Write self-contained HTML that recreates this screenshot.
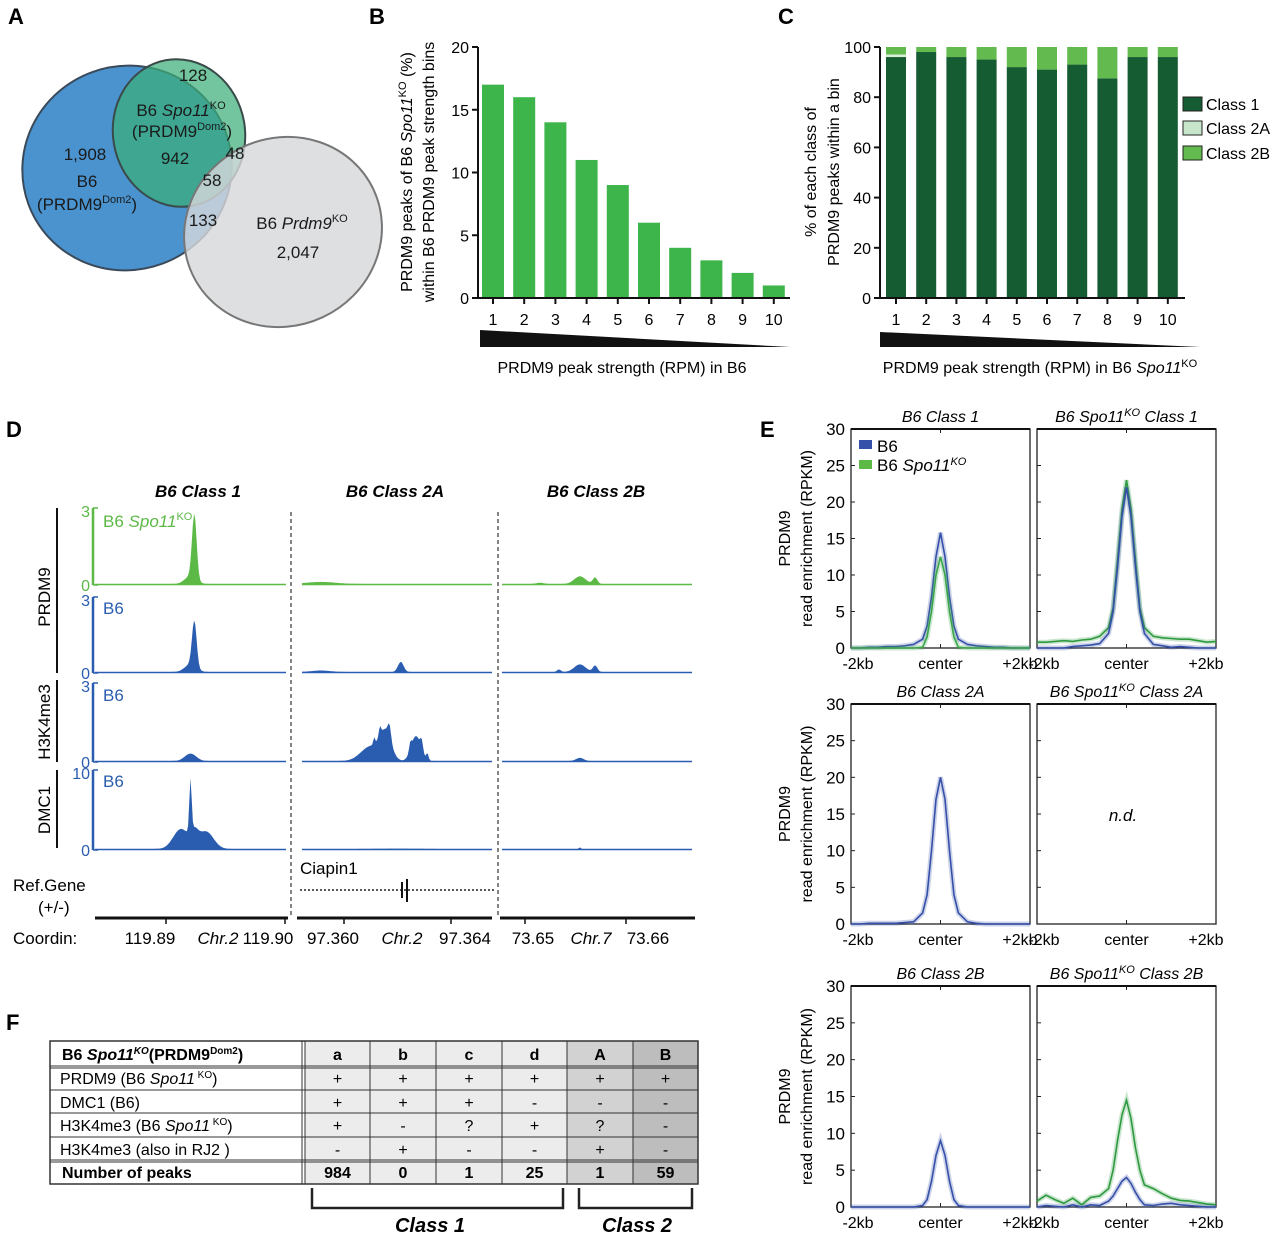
<!DOCTYPE html>
<html><head><meta charset="utf-8"><style>
html,body{margin:0;padding:0;background:#fff}
svg{display:block;font-family:"Liberation Sans",Arial,sans-serif}
</style></head><body>
<svg id="fig" width="1280" height="1235" viewBox="0 0 1280 1235" xmlns="http://www.w3.org/2000/svg">
<g font-weight="bold" font-size="22" fill="#000">
<text x="8" y="24">A</text>
<text x="369" y="24">B</text>
<text x="778" y="24">C</text>
<text x="6" y="437">D</text>
<text x="760" y="437">E</text>
<text x="6" y="1030">F</text>
</g>

<g>
<ellipse cx="127" cy="168" rx="105" ry="102" fill="#4a93cf" stroke="#3a4a5a" stroke-width="2" transform="rotate(-20 127 168)"/>
<ellipse cx="179" cy="133" rx="66" ry="74" fill="rgba(60,175,120,0.72)" stroke="#3a4a4a" stroke-width="2" transform="rotate(-10 179 133)"/>
<ellipse cx="283" cy="232" rx="100" ry="94" fill="rgba(214,216,219,0.82)" stroke="#777" stroke-width="2" transform="rotate(-25 283 232)"/>
<g font-size="17" fill="#1a1a1a" text-anchor="middle">
<text x="193" y="81">128</text>
<text x="181" y="116">B6 <tspan font-style="italic">Spo11</tspan><tspan font-size="11" dy="-7">KO</tspan></text>
<text x="182" y="137">(PRDM9<tspan font-size="11" dy="-7">Dom2</tspan><tspan dy="7">)</tspan></text>
<text x="175" y="164">942</text>
<text x="235" y="159">48</text>
<text x="85" y="160">1,908</text>
<text x="87" y="187">B6</text>
<text x="87" y="210">(PRDM9<tspan font-size="11" dy="-7">Dom2</tspan><tspan dy="7">)</tspan></text>
<text x="212" y="186">58</text>
<text x="203" y="226">133</text>
<text x="302" y="229">B6 <tspan font-style="italic">Prdm9</tspan><tspan font-size="11" dy="-7">KO</tspan></text>
<text x="298" y="258">2,047</text>
</g>
</g>

<g id="panelB">
<text transform="translate(412,172) rotate(-90)" text-anchor="middle" font-size="16">PRDM9 peaks of B6 <tspan font-style="italic">Spo11</tspan><tspan font-size="11" dy="-6">KO</tspan><tspan dy="6"> (%)</tspan></text>
<text transform="translate(434,172) rotate(-90)" text-anchor="middle" font-size="16">within B6 PRDM9 peak strength bins</text>
<polygon points="480,330 790,347 480,347" fill="#111"/>
<text x="622" y="373" text-anchor="middle" font-size="16">PRDM9 peak strength (RPM) in B6</text>
</g>

<g id="panelC">
<text transform="translate(816,172) rotate(-90)" text-anchor="middle" font-size="16">% of each class of</text>
<text transform="translate(839,172) rotate(-90)" text-anchor="middle" font-size="16">PRDM9 peaks within a bin</text>
<polygon points="880,332 1200,347 880,347" fill="#111"/>
<text x="1040" y="373" text-anchor="middle" font-size="16">PRDM9 peak strength (RPM) in B6 <tspan font-style="italic">Spo11</tspan><tspan font-size="11" dy="-6">KO</tspan></text>
<g font-size="16">
<rect x="1183" y="97" width="19" height="14" fill="#155c32" stroke="#222"/><text x="1206" y="110">Class 1</text>
<rect x="1183" y="121" width="19" height="14" fill="#c8e6c9" stroke="#222"/><text x="1206" y="134">Class 2A</text>
<rect x="1183" y="146" width="19" height="14" fill="#63bb4f" stroke="#222"/><text x="1206" y="159">Class 2B</text>
</g>
</g>

<g id="panelD">
<g font-size="17" font-weight="bold" font-style="italic" text-anchor="middle">
<text x="198" y="497">B6 Class 1</text>
<text x="395" y="497">B6 Class 2A</text>
<text x="596" y="497">B6 Class 2B</text>
</g>
<line x1="291" y1="512" x2="291" y2="915" stroke="#333" stroke-dasharray="4,3" stroke-width="1.2"/>
<line x1="498" y1="512" x2="498" y2="915" stroke="#333" stroke-dasharray="4,3" stroke-width="1.2"/>
<line x1="57" y1="508" x2="57" y2="673" stroke="#111" stroke-width="2"/>
<line x1="57" y1="680" x2="57" y2="762" stroke="#111" stroke-width="2"/>
<line x1="57" y1="770" x2="57" y2="848" stroke="#111" stroke-width="2"/>
<g font-size="17" text-anchor="middle">
<text transform="translate(50,597) rotate(-90)">PRDM9</text>
<text transform="translate(50,722) rotate(-90)">H3K4me3</text>
<text transform="translate(50,810) rotate(-90)">DMC1</text>
</g>
<text x="103" y="527" font-size="17" fill="#5cb946">B6 <tspan font-style="italic">Spo11</tspan><tspan font-size="11" dy="-7">KO</tspan></text>
<text x="103" y="614" font-size="17" fill="#2a5db0">B6</text>
<text x="103" y="701" font-size="17" fill="#2a5db0">B6</text>
<text x="103" y="787" font-size="17" fill="#2a5db0">B6</text>
<text x="300" y="874" font-size="17">Ciapin1</text>
<line x1="300" y1="890" x2="496" y2="890" stroke="#222" stroke-width="1.5" stroke-dasharray="2,2"/>
<line x1="402" y1="882" x2="402" y2="898" stroke="#111" stroke-width="2"/>
<line x1="407" y1="879" x2="407" y2="902" stroke="#111" stroke-width="2"/>
<text x="13" y="891" font-size="17">Ref.Gene</text>
<text x="38" y="913" font-size="17">(+/-)</text>
<text x="13" y="944" font-size="17">Coordin:</text>
<g stroke="#111" stroke-width="3">
<line x1="95" y1="918" x2="288" y2="918"/><line x1="297" y1="918" x2="492" y2="918"/><line x1="500" y1="918" x2="695" y2="918"/>
</g>
<g stroke="#111" stroke-width="1.5">
<line x1="166" y1="918" x2="166" y2="924"/><line x1="285" y1="918" x2="285" y2="924"/>
<line x1="344" y1="918" x2="344" y2="924"/><line x1="451" y1="918" x2="451" y2="924"/>
<line x1="525" y1="918" x2="525" y2="924"/><line x1="626" y1="918" x2="626" y2="924"/>
</g>
<g font-size="17" text-anchor="middle">
<text x="150" y="944">119.89</text><text x="218" y="944" font-style="italic">Chr.2</text><text x="268" y="944">119.90</text>
<text x="333" y="944">97.360</text><text x="402" y="944" font-style="italic">Chr.2</text><text x="465" y="944">97.364</text>
<text x="533" y="944">73.65</text><text x="591" y="944" font-style="italic">Chr.7</text><text x="648" y="944">73.66</text>
</g>
</g>

<g id="panelE"></g>
<g id="panelF"></g>
</svg>
<script>
const NS='http://www.w3.org/2000/svg';
function mk(parent,tag,attrs,text){const e=document.createElementNS(NS,tag);for(const k in attrs)e.setAttribute(k,attrs[k]);if(text!==undefined)e.textContent=text;parent.appendChild(e);return e;}

const bBins=[1,2,3,4,5,6,7,8,9,10];
const bValues=[17,16,14,11,9,6,4,3,2,1];
const bTicks=[0,5,10,15,20];
const cBins=[1,2,3,4,5,6,7,8,9,10];
const cClass1=[96,98,96,95,92,91,93,87.5,96,96];
const cClass2A=[1,0,0,0,0,0,0,0,0,0];
const cClass2B=[3,2,4,5,8,9,7,12.5,4,4];
const cTicks=[0,20,40,60,80,100];
const dTrackPeaks=[
 [[[0.52,2.5,0.012],[0.5,0.3,0.03]],[[0.1,0.08,0.08]],[[0.41,0.3,0.03],[0.49,0.25,0.012],[0.2,0.05,0.02]]],
 [[[0.52,1.8,0.012],[0.5,0.3,0.03]],[[0.52,0.4,0.015],[0.1,0.06,0.05]],[[0.41,0.3,0.03],[0.49,0.25,0.012],[0.3,0.1,0.01]]],
 [[[0.5,0.28,0.03]],[[0.36,0.55,0.05],[0.44,1.05,0.03],[0.46,0.5,0.008],[0.41,0.35,0.006],[0.38,0.25,0.005],[0.6,0.95,0.025],[0.63,0.4,0.007],[0.57,0.3,0.006],[0.66,0.25,0.006]],[[0.41,0.12,0.02]]],
 [[[0.5,6.5,0.006],[0.45,2.5,0.04],[0.58,2.2,0.04],[0.52,1.5,0.02]],[[0.5,0.05,0.1]],[[0.41,0.2,0.005]]]
];
const dTrackMax=[3,3,3,10];
const dTrackLabels=['prdm9-spo11ko','prdm9-b6','h3k4me3-b6','dmc1-b6'];
const eX=[-2,-1.8,-1.6,-1.4,-1.2,-1,-0.8,-0.6,-0.4,-0.3,-0.2,-0.1,0,0.1,0.2,0.3,0.4,0.6,0.8,1,1.2,1.4,1.6,1.8,2];
const eR1P1Blue=[0,0,0.1,0.1,0.2,0.2,0.3,0.5,1.2,3,7,12.5,15.8,12.5,7,3,1.2,0.5,0.3,0.2,0.1,0.1,0,0,0];
const eR1P1Green=[0,0,0,0,0,0,0,0,0.1,1.5,5,10,12.5,10,5,1.5,0.1,0,0,0,0,0,0,0,0];
const eR1P2Blue=[0,0,0,0,0.2,0.3,0.4,0.6,2,5,11,18,22,18,11,5,2,0.5,0.3,0.1,0.2,0.1,0,0,0];
const eR1P2Green=[0.8,0.8,0.9,1.0,0.9,1.1,1.2,1.6,2.8,5.5,12,19,23,19,12,5.5,2.8,1.6,1.4,1.3,1.2,1.2,1.0,0.8,0.9];
const eR2P1Blue=[0,0,0.1,0.1,0.1,0.1,0.2,0.3,1.5,4,10,17,20,17,10,4,1.5,0.3,0.1,0,0,0,0,0,0];
const eR3P1Blue=[0,0,0,0,0,0,0,0,0.2,1,3.5,7,9,7,3.5,1,0.2,0,0,0,0,0,0,0,0];
const eR3P2Blue=[0,0.2,0.1,0,0.3,0,0.3,0.2,0.8,1.5,2.5,3.5,4,3.2,2,1,0.3,0.2,0.4,0.5,0.3,0.2,0.1,0,0];
const eR3P2Green=[0.8,1.6,1.0,0.5,1.2,0.3,1.3,1.5,2.5,5,9,12.5,14.5,12,8,5,3,2.5,1.8,1.2,0.9,0.8,0.6,0.4,0.3];
const eYTicks=[0,5,10,15,20,25,30];
const eTitles=[['B6 Class 1','Class 1'],['B6 Class 2A','Class 2A'],['B6 Class 2B','Class 2B']];
const fCols=['a','b','c','d','A','B'];
const fMarks=[['+','+','+','+','+','+'],['+','+','+','-','-','-'],['+','-','?','+','?','-'],['-','+','-','-','+','-']];
const fCounts=[984,0,1,25,1,59];

(function(){
 const g=document.getElementById('panelB');
 const x0=478,y0=298,yTop=47,ax=v=>y0-v*(y0-yTop)/20;
 const xb=i=>493+i*31.2;
 bValues.forEach((v,i)=>{
  const r=mk(g,'rect',{x:xb(i)-11,y:ax(v),width:22,height:y0-ax(v),fill:'#3db54a'});
  
  
  mk(g,'line',{x1:xb(i),y1:y0,x2:xb(i),y2:y0+6,stroke:'#111','stroke-width':2});
  mk(g,'text',{x:xb(i),y:y0+27,'text-anchor':'middle','font-size':16},String(bBins[i]));
 });
 mk(g,'line',{x1:x0,y1:yTop,x2:x0,y2:y0,stroke:'#111','stroke-width':2});
 mk(g,'line',{x1:x0-3,y1:y0,x2:790,y2:y0,stroke:'#111','stroke-width':2});
 bTicks.forEach(t=>{mk(g,'line',{x1:x0-6,y1:ax(t),x2:x0,y2:ax(t),stroke:'#111','stroke-width':2});
  mk(g,'text',{x:x0-9,y:ax(t)+6,'text-anchor':'end','font-size':16},String(t));});
})();
(function(){
 const g=document.getElementById('panelC');
 const x0=880,y0=298,yTop=47,ay=v=>y0-v*(y0-yTop)/100;
 const xc=i=>896+i*30.2;
 cBins.forEach((b,i)=>{
  const s1=cClass1[i],s2=s1+cClass2A[i],s3=s2+cClass2B[i];
  const r1=mk(g,'rect',{x:xc(i)-10,y:ay(s1),width:20,height:ay(0)-ay(s1),fill:'#155c32'});
  
  
  const r2=mk(g,'rect',{x:xc(i)-10,y:ay(s2),width:20,height:ay(s1)-ay(s2),fill:'#d9efd9'});
  
  
  const r3=mk(g,'rect',{x:xc(i)-10,y:ay(s3),width:20,height:ay(s2)-ay(s3),fill:'#63bb4f'});
  
  
  mk(g,'line',{x1:xc(i),y1:y0,x2:xc(i),y2:y0+6,stroke:'#111','stroke-width':2});
  mk(g,'text',{x:xc(i),y:y0+27,'text-anchor':'middle','font-size':16},String(b));
 });
 mk(g,'line',{x1:x0,y1:yTop,x2:x0,y2:y0,stroke:'#111','stroke-width':2});
 mk(g,'line',{x1:x0-3,y1:y0,x2:1185,y2:y0,stroke:'#111','stroke-width':2});
 cTicks.forEach(t=>{mk(g,'line',{x1:x0-6,y1:ay(t),x2:x0,y2:ay(t),stroke:'#111','stroke-width':2});
  mk(g,'text',{x:x0-9,y:ay(t)+6,'text-anchor':'end','font-size':16},String(t));});
})();
(function(){
 const g=document.getElementById('panelD');
 const tracks=[{base:585,top:508,col:'#5cb946'},{base:673,top:597,col:'#2a5db0'},{base:762,top:683,col:'#2a5db0'},{base:850,top:770,col:'#2a5db0'}];
 const panels=[[95,286],[302,492],[502,692]];
 tracks.forEach((t,ti)=>{
  mk(g,'line',{x1:93,y1:t.top,x2:93,y2:t.base,stroke:t.col,'stroke-width':2.5});
  mk(g,'line',{x1:93,y1:t.top,x2:98,y2:t.top,stroke:t.col,'stroke-width':1.5});
  mk(g,'line',{x1:93,y1:t.base,x2:98,y2:t.base,stroke:t.col,'stroke-width':1.5});
  mk(g,'text',{x:90,y:t.top+9,'text-anchor':'end','font-size':16,fill:t.col},String(dTrackMax[ti]));
  mk(g,'text',{x:90,y:t.base+6,'text-anchor':'end','font-size':16,fill:t.col},'0');
  panels.forEach((p,pi)=>{
   const peaks=dTrackPeaks[ti][pi];const N=160;let pts=[];
   const sc=(t.base-t.top)/dTrackMax[ti];
   for(let k=0;k<=N;k++){const f=k/N;let v=0;
    peaks.forEach(pk=>{v+=pk[1]*Math.exp(-((f-pk[0])**2)/(2*pk[2]*pk[2]));});
    pts.push((p[0]+f*(p[1]-p[0])).toFixed(1)+','+(t.base-1-v*sc).toFixed(1));}
   const poly=mk(g,'polygon',{points:p[0]+','+t.base+' '+pts.join(' ')+' '+p[1]+','+t.base,fill:t.col});
   
   
   mk(g,'line',{x1:p[0],y1:t.base-0.5,x2:p[1],y2:t.base-0.5,stroke:t.col,'stroke-width':1.5});
  });
 });
})();
(function(){
 const g=document.getElementById('panelE');
 const rows=[{top:429,bot:648},{top:704,bot:924},{top:986,bot:1207}];
 const cols=[[851,1030],[1037,1216]];
 const series=[[[eR1P1Blue,'#3550a8'],[eR1P1Green,'#3aa64a']],[[eR1P2Green,'#2e9a40'],[eR1P2Blue,'#3550a8']],
  [[eR2P1Blue,'#3550a8']],[],[[eR3P1Blue,'#3550a8']],[[eR3P2Green,'#2e9a40'],[eR3P2Blue,'#3550a8']]];
 rows.forEach((r,ri)=>{
  const ay=v=>r.bot-v*(r.bot-r.top)/30;
  mk(g,'text',{transform:`translate(790,${(r.top+r.bot)/2}) rotate(-90)`,'text-anchor':'middle','font-size':16},'PRDM9');
  mk(g,'text',{transform:`translate(812,${(r.top+r.bot)/2}) rotate(-90)`,'text-anchor':'middle','font-size':16},'read enrichment (RPKM)');
  eYTicks.forEach(t=>{mk(g,'text',{x:845,y:ay(t)+6,'text-anchor':'end','font-size':17},String(t));
    mk(g,'line',{x1:851,y1:ay(t),x2:855,y2:ay(t),stroke:'#222'});
    mk(g,'line',{x1:1037,y1:ay(t),x2:1041,y2:ay(t),stroke:'#222'});});
  cols.forEach((c,ci)=>{
   const ax=kb=>c[0]+(kb+2)/4*(c[1]-c[0]);
   const box=mk(g,'rect',{x:c[0],y:r.top,width:c[1]-c[0],height:r.bot-r.top,fill:'none',stroke:'#222','stroke-width':1.3});
   
   
   mk(g,'line',{x1:c[0],y1:r.top,x2:c[1],y2:r.top,stroke:'#111','stroke-width':2});
   mk(g,'line',{x1:ax(0),y1:r.top,x2:ax(0),y2:r.top+4,stroke:'#222'});
   mk(g,'line',{x1:ax(0),y1:r.bot,x2:ax(0),y2:r.bot-4,stroke:'#222'});
   const tt=mk(g,'text',{x:(c[0]+c[1])/2,y:r.top-7,'text-anchor':'middle','font-size':16,'font-style':'italic'});
   if(ci===0){tt.textContent=eTitles[ri][0];}
   else{tt.innerHTML='B6 Spo11<tspan font-size="11" dy="-6">KO</tspan><tspan dy="6"> '+eTitles[ri][1]+'</tspan>';}
   mk(g,'text',{x:c[0]+7,y:r.bot+21,'font-size':16,'text-anchor':'middle'},'-2kb');
   mk(g,'text',{x:ax(0),y:r.bot+21,'font-size':16,'text-anchor':'middle'},'center');
   mk(g,'text',{x:c[1]-10,y:r.bot+21,'font-size':16,'text-anchor':'middle'},'+2kb');
   (series[ri*2+ci]||[]).forEach((s,si)=>{
    const pts=s[0].map((v,k)=>ax(eX[k]).toFixed(1)+','+ay(v).toFixed(1)).join(' ');
    mk(g,'polyline',{points:pts,fill:'none',stroke:s[1],'stroke-opacity':0.25,'stroke-width':5});
    const pl=mk(g,'polyline',{points:pts,fill:'none',stroke:s[1],'stroke-width':1.6});
    
    
   });
  });
 });
 mk(g,'text',{x:1123,y:821,'text-anchor':'middle','font-size':17,'font-style':'italic'},'n.d.');
 mk(g,'rect',{x:859,y:440,width:13,height:9,fill:'#3550a8'});
 mk(g,'text',{x:877,y:452,'font-size':17},'B6');
 mk(g,'rect',{x:859,y:460,width:13,height:9,fill:'#5cb946'});
 const lt=mk(g,'text',{x:877,y:471,'font-size':17});
 lt.innerHTML='B6 <tspan font-style="italic">Spo11</tspan><tspan font-size="11" dy="-6" font-style="italic">KO</tspan>';
})();
(function(){
 const g=document.getElementById('panelF');
 const rowY=[1041,1066,1090,1113,1137,1160,1184];
 const colX=[305,370,436,502,567,633,698];
 const bgs=['#ececec','#ececec','#ececec','#ececec','#d2d2d2','#bdbdbd'];
 for(let c=0;c<6;c++){
  const r=mk(g,'rect',{x:colX[c],y:rowY[0],width:colX[c+1]-colX[c],height:rowY[6]-rowY[0],fill:bgs[c]});
  
  
 }
 mk(g,'rect',{x:50,y:rowY[0],width:648,height:rowY[6]-rowY[0],fill:'none',stroke:'#333','stroke-width':1.5});
 rowY.slice(1,6).forEach(y=>mk(g,'line',{x1:50,y1:y,x2:698,y2:y,stroke:'#333','stroke-width':1}));
 mk(g,'line',{x1:50,y1:rowY[1]+2,x2:698,y2:rowY[1]+2,stroke:'#333','stroke-width':1});
 mk(g,'line',{x1:50,y1:rowY[5]+2,x2:698,y2:rowY[5]+2,stroke:'#333','stroke-width':1});
 colX.slice(0,6).forEach(x=>mk(g,'line',{x1:x,y1:rowY[0],x2:x,y2:rowY[6],stroke:'#333','stroke-width':1}));
 mk(g,'line',{x1:302,y1:rowY[0],x2:302,y2:rowY[6],stroke:'#333','stroke-width':1});
 const h=mk(g,'text',{x:62,y:1060,'font-size':16,'font-weight':'bold'});
 h.innerHTML='B6 <tspan font-style="italic">Spo11</tspan><tspan font-size="10" dy="-6" font-style="italic">KO</tspan><tspan dy="6">(PRDM9</tspan><tspan font-size="10" dy="-6">Dom2</tspan><tspan dy="6">)</tspan>';
 const lab=['PRDM9 (B6 <tspan font-style="italic">Spo11</tspan><tspan font-size="10" dy="-6"> KO</tspan><tspan dy="6">)</tspan>',
  'DMC1  (B6)','H3K4me3 (B6 <tspan font-style="italic">Spo11</tspan><tspan font-size="10" dy="-6"> KO</tspan><tspan dy="6">)</tspan>','H3K4me3 (also in RJ2 )'];
 lab.forEach((s,i)=>{const t=mk(g,'text',{x:60,y:rowY[i+1]+18,'font-size':16});t.innerHTML=s;
   
   });
 mk(g,'text',{x:62,y:rowY[5]+18,'font-size':16,'font-weight':'bold'},'Number of peaks');
 fCols.forEach((c,ci)=>{const cx=(colX[ci]+colX[ci+1])/2;
  mk(g,'text',{x:cx,y:1060,'text-anchor':'middle','font-size':16,'font-weight':'bold'},c);
  fMarks.forEach((row,ri)=>mk(g,'text',{x:cx,y:rowY[ri+1]+18,'text-anchor':'middle','font-size':16},row[ci]));
  const n=mk(g,'text',{x:cx,y:rowY[5]+18,'text-anchor':'middle','font-size':16,'font-weight':'bold'},String(fCounts[ci]));
  
  
 });
 mk(g,'polyline',{points:'312,1188 312,1208 563,1208 563,1188',fill:'none',stroke:'#222','stroke-width':2.5});
 mk(g,'polyline',{points:'579,1188 579,1208 692,1208 692,1188',fill:'none',stroke:'#222','stroke-width':2.5});
 mk(g,'text',{x:430,y:1232,'text-anchor':'middle','font-size':20,'font-weight':'bold','font-style':'italic'},'Class 1');
 mk(g,'text',{x:637,y:1232,'text-anchor':'middle','font-size':20,'font-weight':'bold','font-style':'italic'},'Class 2');
})();
</script>
</body></html>
